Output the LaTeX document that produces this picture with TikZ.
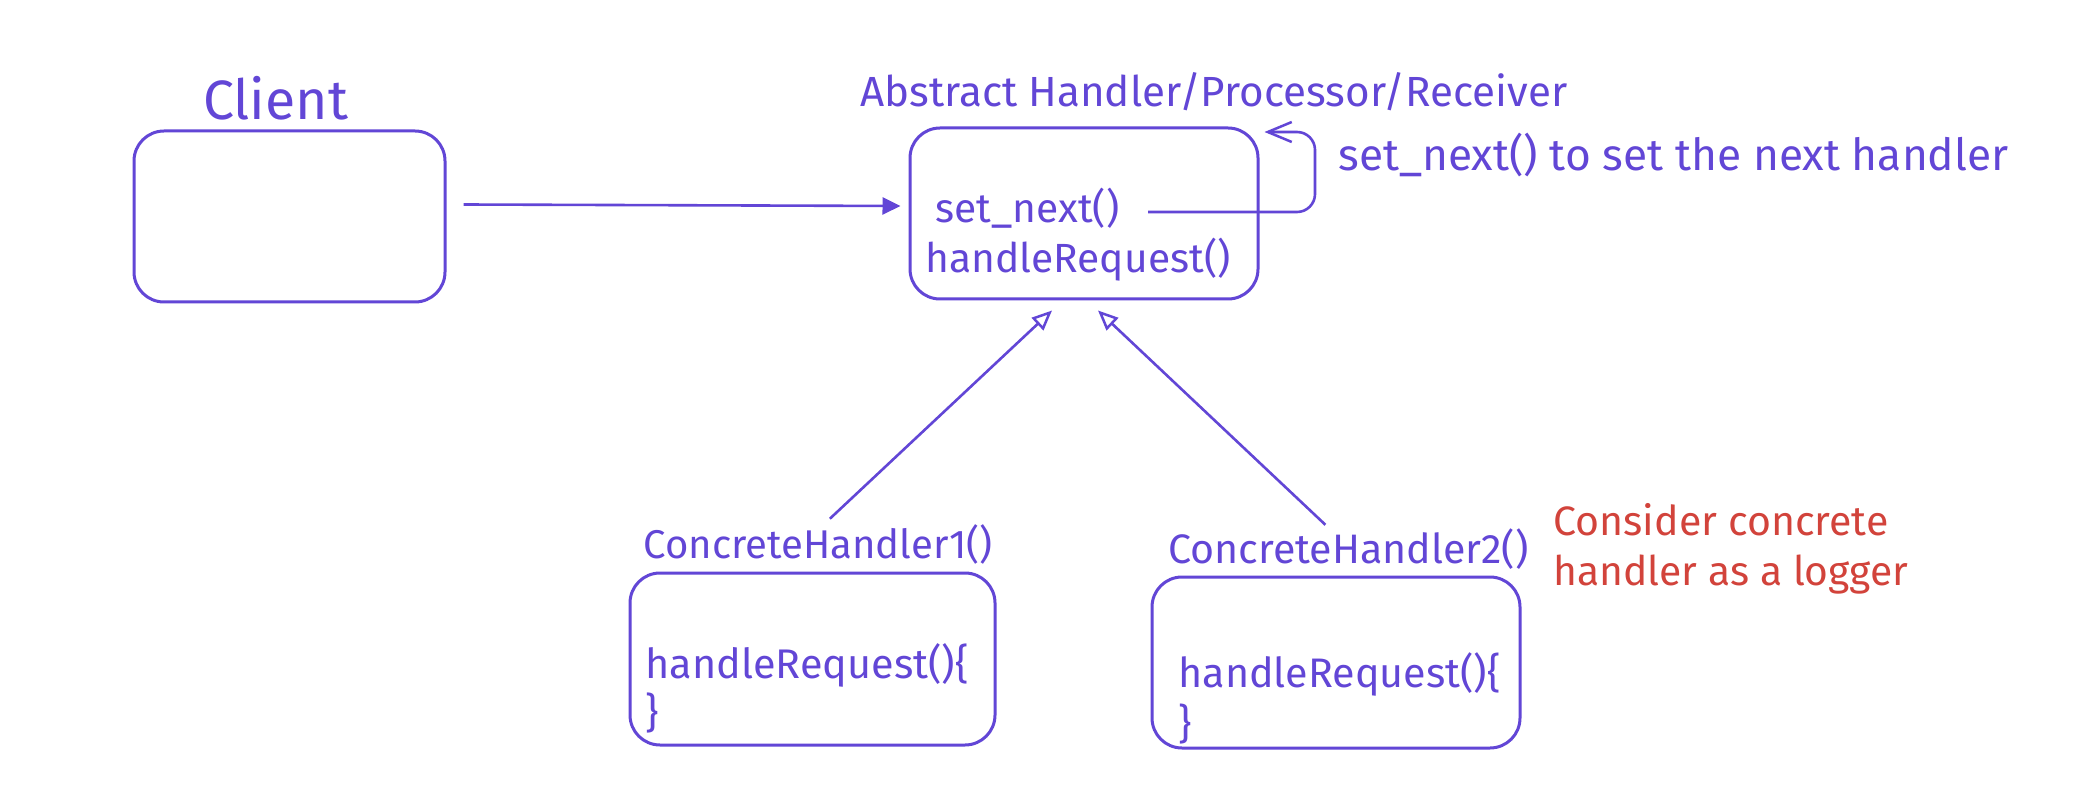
\documentclass[tikz,border=0pt]{standalone}
\usepackage{fontspec}
\setmainfont{Fira Sans}
\usetikzlibrary{arrows.meta,fit,calc}
\definecolor{vio}{HTML}{6246D6}
\definecolor{redc}{HTML}{D2433B}
\newlength\fitwlen
% set text #2 so that its width is #1 pt
\newcommand\fitw[2]{%
  \settowidth\fitwlen{\fontsize{10}{12}\selectfont #2}%
  \pgfmathsetmacro\fitwsize{10*#1/\fitwlen}%
  \global\let\lastfitsize\fitwsize
  \fontsize{\fitwsize}{\fitwsize}\selectfont #2}
\newcommand\samesize[1]{\fontsize{\lastfitsize}{\lastfitsize}\selectfont #1}
\begin{document}
\begin{tikzpicture}[x=0.5pt,y=-0.5pt,
  box/.style={draw=vio, line width=1.5pt, rounded corners=15pt, inner sep=0pt},
  txt/.style={text=vio, inner sep=0pt, anchor=base west},
  note/.style={text=redc, inner sep=0pt, anchor=base west},
  conn/.style={draw=vio, line width=1.3pt},
  inh/.style={conn, -{Triangle[open, length=10pt, width=8.5pt, line width=1.25pt]}},
  assoc/.style={conn, -{Triangle[length=9pt, width=8.5pt]}},
  loopc/.style={conn, rounded corners=9pt, -{Straight Barb[length=12pt, width=10pt, line width=1.25pt]}}]
\useasboundingbox (0,0) rectangle (2092,796);
\fill[white] (0,0) rectangle (2092,796);

% boxes
\node[box, fit={(134,131) (445,302)}] (client) {};
\node[box, fit={(910,128) (1258,299)}] (abstract) {};
\node[box, fit={(630,573) (995,745)}] (c1) {};
\node[box, fit={(1152,577) (1520,748)}] (c2) {};

% labels
\node[txt, anchor=base] (clientlbl) at (275.5,120) {\fitw{72.5}{Client}};
\node[txt] (abslbl) at (860,107) {\fitw{353.5}{Abstract Handler/Processor/Receiver}};
\node[txt] (handle) at (925,273) {\fitw{152.5}{handleRequest()}};
\node[txt] (setnext) at (935,223) {\samesize{set\_next()}};
\node[txt] (loopnote) at (1338,171) {\fitw{335}{set\_next() to set the next handler}};

\node[txt] (c1lbl) at (643,558) {\fitw{174.5}{ConcreteHandler1()}};
\node[txt] (c1m) at (645,678) {\fitw{161.5}{handleRequest()\{}};
\node[txt] (c1e) at (645,727) {\samesize{\}}};

\node[txt] (c2lbl) at (1168,563) {\fitw{180}{ConcreteHandler2()}};
\node[txt] (c2m) at (1178,687) {\fitw{161}{handleRequest()\{}};
\node[txt] (c2e) at (1178,738) {\samesize{\}}};

\node[note] (note1) at (1553,535) {\fitw{167.5}{Consider concrete}};
\node[note] (note2) at (1553,585) {\fitw{177.5}{handler as a logger}};

% connectors
\draw[assoc] ($(client.east)+(17,-12)$) -- ($(abstract.west)+(-8,-7.5)$);
\coordinate (loopA) at (1315,212);
\coordinate (loopB) at (1315,132);
\coordinate (loopS) at (1148,212);
\draw[loopc] (loopS) -- (loopA) -- (loopB) -- ($(abstract.east |- loopB)+(5,0)$);
\draw[inh] ($(c1lbl.north)+(12,-5)$) -- ($(abstract.south)+(-32,10)$);
\draw[inh] ($(c2lbl.north)+(-23,-3)$) -- ($(abstract.south)+(14,10)$);
\end{tikzpicture}
\end{document}
